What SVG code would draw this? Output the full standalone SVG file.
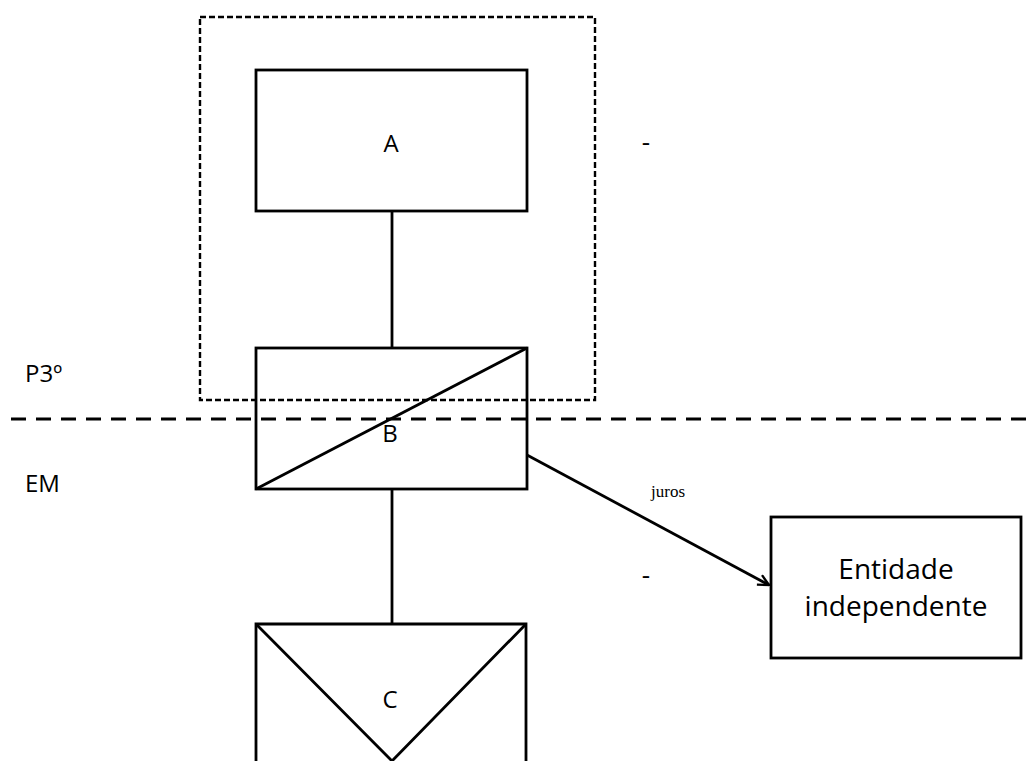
<svg xmlns="http://www.w3.org/2000/svg" width="1028" height="761" viewBox="0 0 1028 761">
<defs>
<style>
.box{fill:#fff;stroke:#000;stroke-width:2.8}
.ln{fill:none;stroke:#000;stroke-width:2.8}
.lbl{font-family:"Open Sans","Liberation Sans",sans-serif;font-size:24px;fill:#000}
.ser{font-family:"Liberation Serif",serif;font-size:17px;fill:#000}
</style>
<marker id="arr" viewBox="0 0 12 12" refX="11" refY="6" markerWidth="13" markerHeight="13" markerUnits="userSpaceOnUse" orient="auto">
<path d="M1,1 L11,6 L1,11" fill="none" stroke="#000" stroke-width="2.2"/>
</marker>
</defs>
<rect width="1028" height="761" fill="#fff"/>
<rect id="group-box" x="200" y="17" width="395" height="383" fill="none" stroke="#000" stroke-width="2.4" stroke-dasharray="6,3"/>
<line id="divider" x1="11" y1="419" x2="1028" y2="419" stroke="#000" stroke-width="3.2" stroke-dasharray="15,10"/>
<g id="connectors">
<line class="ln" x1="392" y1="211" x2="392" y2="348"/>
<line class="ln" x1="392" y1="489" x2="392" y2="624"/>
<line class="ln" x1="527" y1="455" x2="769" y2="585" marker-end="url(#arr)"/>
<text class="ser" x="668" y="497" text-anchor="middle">juros</text>
</g>
<g id="node-A">
<rect class="box" x="256" y="70" width="271" height="141"/>
<text class="lbl" x="391" y="152" text-anchor="middle">A</text>
</g>
<g id="node-B">
<rect class="box" x="256" y="348" width="271" height="141" style="fill:none"/>
<line class="ln" x1="256" y1="489" x2="527" y2="348"/>
<text class="lbl" x="390" y="442" text-anchor="middle">B</text>
</g>
<g id="node-C">
<path class="ln" d="M256,761 V624 H526 V761"/>
<path class="ln" d="M256,624 L392,761 L526,624"/>
<text class="lbl" x="390" y="708" text-anchor="middle">C</text>
</g>
<g id="node-entidade">
<rect class="box" x="771" y="517" width="250" height="141"/>
<text class="lbl" x="896" y="579" text-anchor="middle" style="font-size:28px">Entidade</text>
<text class="lbl" x="896" y="616" text-anchor="middle" style="font-size:28px">independente</text>
</g>
<text class="lbl" x="25" y="382">P3º</text>
<text class="lbl" x="25" y="492">EM</text>
<text class="lbl" x="646" y="151" text-anchor="middle" style="font-size:26px">-</text>
<text class="lbl" x="646" y="584" text-anchor="middle" style="font-size:26px">-</text>
</svg>
